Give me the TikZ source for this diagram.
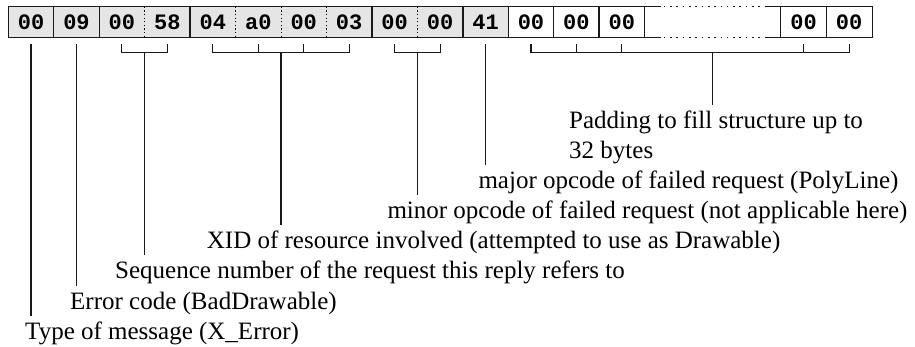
\documentclass[tikz,border=0pt]{standalone}
\usepackage{fontspec}
\setmainfont{Liberation Serif}
\newfontfamily\hexfont{Liberation Mono}
\usetikzlibrary{calc}
\begin{document}
\begin{tikzpicture}[x=1pt,y=-1pt,
  cell/.style={minimum width=45.45pt, minimum height=30pt, inner sep=0pt,
    font=\hexfont\bfseries\fontsize{22}{22}\selectfont},
  used/.style={cell, fill=black!10},
  padcell/.style={cell, fill=white},
  frame/.style={line width=1pt, draw=black!90},
  divider/.style={line width=1pt, dash pattern=on 1.2pt off 2.4pt},
  gapline/.style={line width=1.1pt, dash pattern=on 1.6pt off 4.7pt, dash phase=-3pt},
  lead/.style={line width=1.1pt, draw=black!90},
  lab/.style={anchor=base west, inner xsep=0pt, inner ysep=6.3pt,
    text height=17pt, text depth=5pt, font=\fontsize{25}{30}\selectfont}]
\useasboundingbox (0,0) rectangle (915,347);

% header bytes (grey) and padding bytes (white)
\foreach \t [count=\i from 0] in {00,09,00,58,04,a0,00,03,00,00,41}
  \node[used] (c\i) at ({8.3+45.45*(\i+0.5)},22) {\t};
\foreach \i in {11,12,13,17,18}
  \node[padcell] (c\i) at ({8.3+45.45*(\i+0.5)},22) {00};

% field frames
\draw[frame] (c0.north west) rectangle (c0.south east);
\draw[frame] (c1.north west) rectangle (c1.south east);
\draw[frame] (c2.north west) rectangle (c3.south east);
\draw[frame] (c4.north west) rectangle (c7.south east);
\draw[frame] (c8.north west) rectangle (c9.south east);
\foreach \i in {10,11,12,13,17,18}
  \draw[frame] (c\i.north west) rectangle (c\i.south east);

% byte separators inside multi-byte fields
\foreach \i in {2,4,5,6,8}
  \draw[divider] (c\i.north east) -- (c\i.south east);

% elided padding bytes
\draw[frame] (c13.north east) -- ++(16,0) coordinate (gt1);
\draw[frame] (c17.north west) -- ++(-16,0) coordinate (gt2);
\draw[frame, gapline] (gt1) -- (gt2);
\draw[frame] (c13.south east) -- ++(16,0) coordinate (gb1);
\draw[frame] (c17.south west) -- ++(-16,0) coordinate (gb2);
\draw[frame, gapline] (gb1) -- (gb2);

% labels
\node[lab] (pad1)  at (569,128.3) {Padding to fill structure up to};
\node[lab] (pad2)  at (569,158.3) {32 bytes};
\node[lab] (major) at (478.3,188.3) {major opcode of failed request (PolyLine)};
\node[lab] (minor) at (387.3,218.7) {minor opcode of failed request (not applicable here)};
\node[lab] (xid)   at (206.7,249) {XID of resource involved (attempted to use as Drawable)};
\node[lab] (seq)   at (115,279) {Sequence number of the request this reply refers to};
\node[lab] (err)   at (70,309.3) {Error code (BadDrawable)};
\node[lab] (type)  at (25,339.6) {Type of message (X\_Error)};

% brackets under multi-byte fields
\draw[lead] ([yshift=-7pt]c2.south) -- ([yshift=-15pt]c2.south)
  -- ([yshift=-15pt]c3.south) -- ([yshift=-7pt]c3.south);
\draw[lead] ([yshift=-7pt]c4.south) -- ([yshift=-15pt]c4.south)
  -- ([yshift=-15pt]c7.south) -- ([yshift=-7pt]c7.south);
\foreach \i in {5,6}
  \draw[lead] ([yshift=-7pt]c\i.south) -- ([yshift=-15pt]c\i.south);
\draw[lead] ([yshift=-7pt]c8.south) -- ([yshift=-15pt]c8.south)
  -- ([yshift=-15pt]c9.south) -- ([yshift=-7pt]c9.south);
\draw[lead] ([yshift=-7pt]c11.south) -- ([yshift=-15pt]c11.south)
  -- ([yshift=-15pt]c18.south) -- ([yshift=-7pt]c18.south);
\foreach \i in {12,13,17}
  \draw[lead] ([yshift=-7pt]c\i.south) -- ([yshift=-15pt]c\i.south);

% leader lines down to the labels
\coordinate (s0)  at ([yshift=-7pt]c0.south);
\coordinate (s1)  at ([yshift=-7pt]c1.south);
\coordinate (s10) at ([yshift=-7pt]c10.south);
\coordinate (b23) at ($(c2.south)!0.5!(c3.south)+(0,15)$);
\coordinate (b47) at ($(c4.south)!0.5!(c7.south)+(0,15)$);
\coordinate (b89) at ($(c8.south)!0.5!(c9.south)+(0,15)$);
\coordinate (bpd) at ($(c12.south)!0.5!(c18.south)+(0,15)$);
\draw[lead] (s0)  -- (s0  |- type.north);
\draw[lead] (s1)  -- (s1  |- err.north);
\draw[lead] (b23) -- (b23 |- seq.north);
\draw[lead] (b47) -- (b47 |- xid.north);
\draw[lead] (b89) -- (b89 |- minor.north);
\draw[lead] (s10) -- (s10 |- major.north);
\draw[lead] (bpd) -- (bpd |- pad1.north);
\end{tikzpicture}
\end{document}
